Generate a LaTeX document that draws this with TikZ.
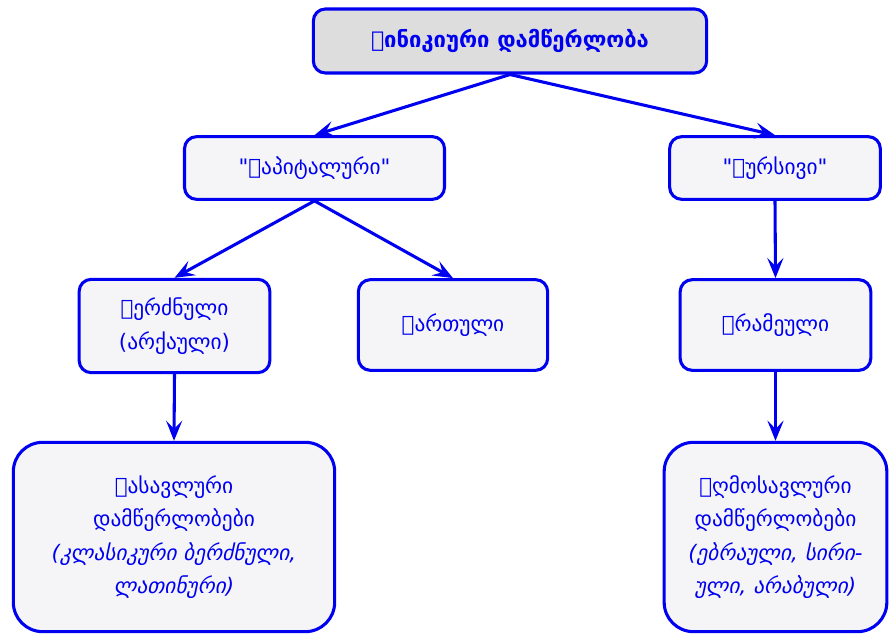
\documentclass[tikz,border=0pt]{standalone}
\usepackage{fontspec}
\newfontfamily\kartuli{DejaVu Sans}
\usetikzlibrary{arrows.meta}
\definecolor{lurji}{RGB}{0,0,240}
\definecolor{ruxi}{RGB}{221,221,221}
\definecolor{ghia}{RGB}{245,245,247}

\begin{document}
\begin{tikzpicture}[x=0.75pt,y=-0.75pt,
    yuti/.style={draw=lurji,line width=2.3pt,fill=ghia,rounded corners=9pt,text=lurji,
      align=center,inner sep=0pt,font=\kartuli\fontsize{16}{25}\selectfont},
    didi/.style={yuti,rounded corners=22pt},
    isari/.style={draw=lurji,line width=2.3pt,-{Stealth[length=15pt,width=12pt,inset=6pt]}}]
  \useasboundingbox (0,0) rectangle (889,641);
  % boxes
  \node[yuti,fill=ruxi,minimum width=295pt,minimum height=48pt,font=\kartuli\fontsize{16.5}{25}\selectfont\bfseries]
    (finik) at (510,41) {Ფინიკიური დამწერლობა};
  \node[yuti,minimum width=195pt,minimum height=47pt] (kapit) at (314.5,168) {"Კაპიტალური"};
  \node[yuti,minimum width=158pt,minimum height=47pt] (kurs) at (775,168) {"Კურსივი"};
  \node[yuti,minimum width=143pt,minimum height=70pt] (berdz) at (174.5,326) {Ბერძნული\\(არქაული)};
  \node[yuti,minimum width=142pt,minimum height=68pt] (kart) at (453,325) {Ქართული};
  \node[yuti,minimum width=143pt,minimum height=68pt] (aram) at (775.5,325) {Არამეული};
  \node[didi,minimum width=241pt,minimum height=142pt] (dasav) at (174,537)
    {Დასავლური\\დამწერლობები\\\textit{(კლასიკური ბერძნული,}\\\textit{ლათინური)}};
  \node[didi,minimum width=167pt,minimum height=142pt] (aghmo) at (775.5,537)
    {Აღმოსავლური\\დამწერლობები\\\textit{(ებრაული, სირი-}\\\textit{ული, არაბული)}};
  % arrows
  \draw[isari] (finik.south) -- (kapit.north);
  \draw[isari] (finik.south) -- (kurs.north);
  \draw[isari] (kapit.south) -- (berdz.north);
  \draw[isari] (kapit.south) -- (kart.north);
  \draw[isari] (kurs.south) -- (aram.north);
  \draw[isari] (berdz.south) -- (dasav.north);
  \draw[isari] (aram.south) -- (aghmo.north);
\end{tikzpicture}
\end{document}
